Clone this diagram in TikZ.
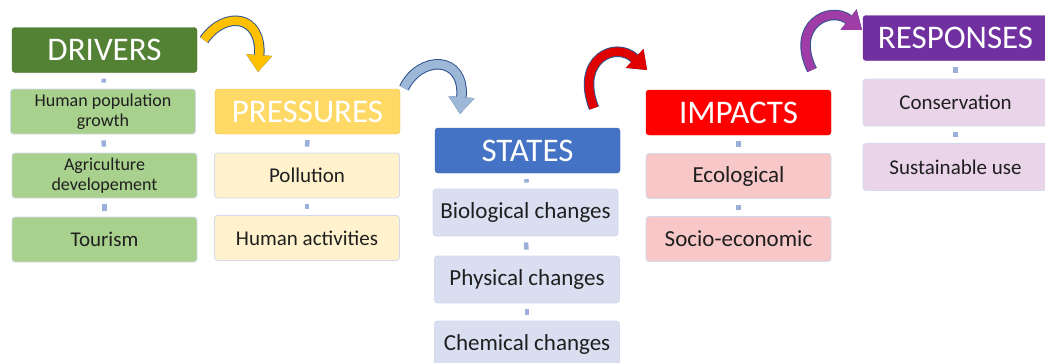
\documentclass[tikz,border=0pt]{standalone}
\usepackage{fontspec}
\setmainfont{Carlito}
\usetikzlibrary{arrows.meta}

\definecolor{drvdark}{HTML}{548235}
\definecolor{drvlight}{HTML}{A9D18E}
\definecolor{prsdark}{HTML}{FFD966}
\definecolor{prslight}{HTML}{FFF2CC}
\definecolor{stadark}{HTML}{4472C4}
\definecolor{stalight}{HTML}{D9DEF1}
\definecolor{impdark}{HTML}{FF0000}
\definecolor{implight}{HTML}{F8C8C8}
\definecolor{resdark}{HTML}{7030A0}
\definecolor{reslight}{HTML}{EAD4EA}
\definecolor{itemline}{HTML}{D2DAEC}
\definecolor{linkblue}{HTML}{9AAFDA}
\definecolor{rimblue}{HTML}{2F528F}
\definecolor{goldarrow}{HTML}{FFC000}
\definecolor{bluearrow}{HTML}{9DB7D6}
\definecolor{redarrow}{HTML}{E00000}
\definecolor{purplearrow}{HTML}{A03CA6}

\begin{document}
\begin{tikzpicture}[x=1pt,y=-1pt]
    \tikzset{every node/.style={rounded corners=3pt,minimum width=185pt,minimum height=45pt,inner sep=2pt,align=center,text=black!88,font=\fontsize{21}{22}\selectfont}}
    \tikzset{head/.style={text=white,font=\fontsize{33}{36}\selectfont}}
    \tikzset{item/.style={draw=itemline,line width=0.8pt}}
    \tikzset{link/.style={draw=linkblue,line width=4.5pt,shorten <=6pt,shorten >=6pt}}
    \tikzset{rim/.style={draw=rimblue,line width=10.5pt,-{Triangle[length=17pt,width=26pt,line width=1.2pt]}}}
    \tikzset{flow/.style={line width=8.5pt,-{Triangle[length=17pt,width=26pt,line width=0pt]}}}

    \useasboundingbox (0,0) rectangle (1045,362);

    % drivers
    \node[head,fill=drvdark,draw=drvdark!85!black] (d0) at (104.5, 50) {DRIVERS};
    \node[item,fill=drvlight,font=\fontsize{18}{20}\selectfont] (d1) at (103, 111.5) {Human population\\growth};
    \node[item,fill=drvlight,font=\fontsize{18}{20}\selectfont] (d2) at (104.5, 175.5) {Agriculture\\developement};
    \node[item,fill=drvlight] (d3) at (104.5, 239.5) {Tourism};

    % pressures
    \node[head,fill=prsdark,draw=prsdark!90!black] (p0) at (307.5, 111.5) {PRESSURES};
    \node[item,fill=prslight] (p1) at (307, 175.5) {Pollution};
    \node[item,fill=prslight] (p2) at (307, 238) {Human activities};

    % states
    \node[head,fill=stadark,draw=stadark!85!black] (s0) at (527.5, 150.5) {STATES};
    \node[item,fill=stalight,minimum height=47pt,font=\fontsize{23}{24}\selectfont] (s1) at (525.5, 212.5) {Biological changes};
    \node[item,fill=stalight,minimum height=47pt,font=\fontsize{23}{24}\selectfont] (s2) at (527, 279.5) {Physical changes};
    \node[item,fill=stalight,minimum height=47pt,font=\fontsize{23}{24}\selectfont] (s3) at (527, 344.5) {Chemical changes};

    % impacts
    \node[head,fill=impdark,draw=impdark!90!black] (i0) at (738.5, 112.5) {IMPACTS};
    \node[item,fill=implight,font=\fontsize{23}{24}\selectfont] (i1) at (738.5, 176) {Ecological};
    \node[item,fill=implight,font=\fontsize{23}{24}\selectfont] (i2) at (738.5, 239) {Socio-economic};

    % responses
    \node[head,fill=resdark,draw=resdark!85!black] (r0) at (955.5, 38) {RESPONSES};
    \node[item,fill=reslight,minimum height=47pt] (r1) at (955.5, 102.5) {Conservation};
    \node[item,fill=reslight,minimum height=47pt] (r2) at (955.5, 167) {Sustainable use};

    \draw[link] (d0) -- (d1);
    \draw[link] (d1) -- (d2);
    \draw[link] (d2) -- (d3);
    \draw[link] (p0) -- (p1);
    \draw[link] (p1) -- (p2);
    \draw[link] (s0) -- (s1);
    \draw[link] (s1) -- (s2);
    \draw[link] (s2) -- (s3);
    \draw[link] (i0) -- (i1);
    \draw[link] (i1) -- (i2);
    \draw[link] (r0) -- (r1);
    \draw[link] (r1) -- (r2);

    % curved arrows between the stages
    \coordinate (a1) at (204, 40);
    \coordinate (b1) at (258, 72);
    \coordinate (a2) at (404, 88);
    \coordinate (b2) at (460, 114);
    \coordinate (a3) at (594, 108);
    \coordinate (b3) at (647, 70);
    \coordinate (a4) at (812, 70);
    \coordinate (b4) at (862, 30);

    \draw[rim] (a1) .. controls (225, 10) and (262, 15) .. (b1);
    \draw[flow,draw=goldarrow] (a1) .. controls (225, 10) and (262, 15) .. (b1);
    \draw[rim] (a2) .. controls (420, 55) and (465, 55) .. (b2);
    \draw[flow,draw=bluearrow] (a2) .. controls (420, 55) and (465, 55) .. (b2);
    \draw[rim] (a3) .. controls (575, 60) and (615, 40) .. (b3);
    \draw[flow,draw=redarrow] (a3) .. controls (575, 60) and (615, 40) .. (b3);
    \draw[rim] (a4) .. controls (790, 25) and (830, 5) .. (b4);
    \draw[flow,draw=purplearrow] (a4) .. controls (790, 25) and (830, 5) .. (b4);
\end{tikzpicture}
\end{document}
